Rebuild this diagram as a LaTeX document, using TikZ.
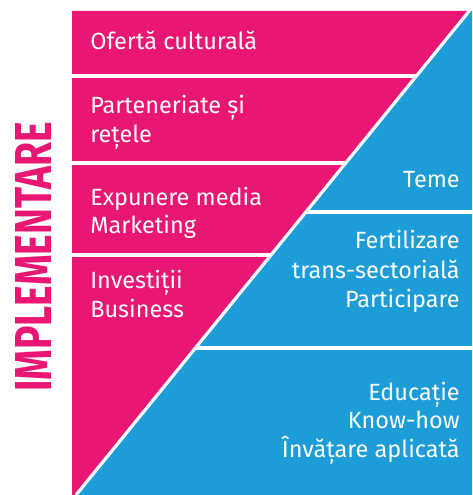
\documentclass[tikz,border=0pt]{standalone}
\usepackage{fontspec}
\setmainfont{Fira Sans}
\usetikzlibrary{calc}
\definecolor{pinkc}{RGB}{233,22,115}
\definecolor{bluec}{RGB}{28,157,216}
\begin{document}
\begin{tikzpicture}[x=0.75pt,y=-0.75pt,
  lbl/.style={text=white,font=\fontsize{17.6pt}{21pt}\selectfont,inner sep=0pt,align=left},
  rlbl/.style={text=white,font=\fontsize{17.6pt}{21pt}\selectfont,inner sep=0pt,align=right},
  sep/.style={draw=white,line width=2.4pt}]
\useasboundingbox (0,0) rectangle (472,495);
% diagonal
\coordinate (dt) at (470,10);
\coordinate (db) at (76,495);
\coordinate (dtop) at ($(dt)!{1/485}!(db)$);
\fill[pinkc] (72,11) -- (dtop) -- (db) -- (72,495) -- cycle;
\fill[bluec] (472,11) -- (472,495) -- (db) -- (dtop) -- cycle;
\draw[sep] (dt) -- (db);
% pink separators
\draw[sep] (71,76) -- (416.4,76);
\draw[sep] (71,163) -- (345.7,163);
\draw[sep] (71,255) -- (271,255);
% blue separators
\draw[sep] (305.9,212) -- (473,212);
\draw[sep] (195.4,348) -- (473,348);
% pink labels
\node[lbl,anchor=base west] (t1) at (90,50) {Ofertă culturală};
\node[lbl,anchor=base west] (t2) at (90,114) {Parteneriate și};
\node[lbl,anchor=base west] (t2b) at (90,143) {rețele};
\node[lbl,anchor=base west] (t3) at (90,205) {Expunere media};
\node[lbl,anchor=base west] (t3b) at (90,233) {Marketing};
\node[lbl,anchor=base west] (t4) at (90,288) {Investiții};
\node[lbl,anchor=base west] (t4b) at (90,317) {Business};
% blue labels
\node[rlbl,anchor=base east] (b1) at (460,188) {Teme};
\node[rlbl,anchor=base east] (b2) at (460,248) {Fertilizare};
\node[rlbl,anchor=base east] (b2b) at (460,278) {trans-sectorială};
\node[rlbl,anchor=base east] (b2c) at (460,307) {Participare};
\node[rlbl,anchor=base east] (b3) at (460,400) {Educație};
\node[rlbl,anchor=base east] (b3b) at (460,428) {Know-how};
\node[rlbl,anchor=base east] (b3c) at (460,457) {Învățare aplicată};
% vertical title
\node[text=pinkc,rotate=90,inner sep=0pt,font=\fontsize{39pt}{40pt}\selectfont\bfseries] (title) at (33.5,257) {\scalebox{0.75}[1]{IMPLEMENTARE}};
\end{tikzpicture}
\end{document}
